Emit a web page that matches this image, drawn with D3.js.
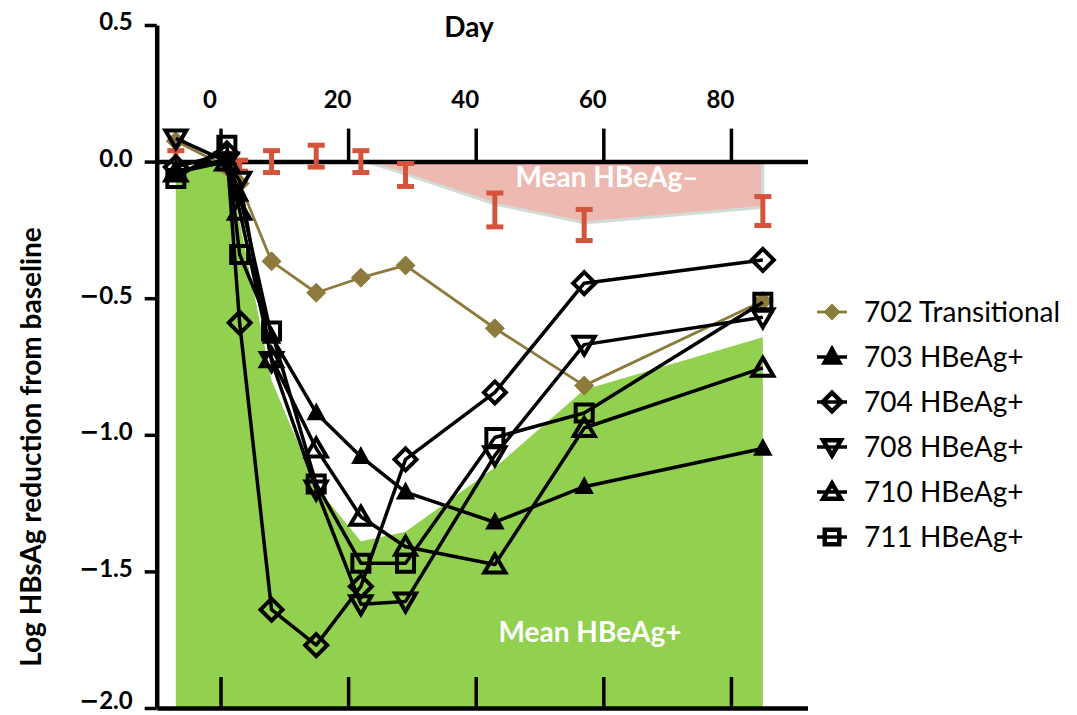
<!DOCTYPE html>
<html><head><meta charset="utf-8">
<script src="https://cdn.jsdelivr.net/npm/d3@7"></script>
<style>
body{margin:0;background:#fff}
svg{display:block}
text{font-family:Lato,"Open Sans",sans-serif}
</style>
</head><body>
<svg id="c" width="1077" height="715"></svg>
<script>
// ---------- data ----------
const days = [-7, 1, 3, 8, 15, 22, 29, 43, 57, 85];
const xTicks = [0, 20, 40, 60, 80];
const yTicks = [0.5, 0, -0.5, -1.0, -1.5, -2.0];

const meanPos = [-0.03, 0.0, -0.22, -0.80, -1.19, -1.39, -1.355, -1.12, -0.835, -0.643];
const meanNeg = [0, 0, 0, 0, 0.01, 0.006, -0.046, -0.155, -0.225, -0.167];
const negErrCenter = [0.0, 0.0, -0.015, 0.0, 0.02, 0.0, -0.049, -0.177, -0.232, -0.181];
const negErrHalf = [0.04, 0.03, 0.02, 0.04, 0.04, 0.04, 0.042, 0.062, 0.057, 0.053];

const s702 = [0.075, -0.02, -0.08, -0.365, -0.48, -0.425, -0.38, -0.61, -0.82, -0.51];
const s703 = [-0.04, 0.01, -0.12, -0.64, -0.92, -1.08, -1.21, -1.32, -1.19, -1.05];
const s704 = [-0.02, 0.03, -0.59, -1.64, -1.77, -1.555, -1.09, -0.845, -0.445, -0.36];
const s708 = [0.085, 0.0, -0.07, -0.73, -1.2, -1.62, -1.61, -1.075, -0.67, -0.57];
const s710 = [-0.04, 0.0, -0.18, -0.72, -1.05, -1.30, -1.41, -1.475, -0.975, -0.755];
const s711 = [-0.062, 0.06, -0.34, -0.62, -1.18, -1.47, -1.47, -1.01, -0.92, -0.515];

const seriesNames = ["702 Transitional", "703 HBeAg+", "704 HBeAg+", "708 HBeAg+", "710 HBeAg+", "711 HBeAg+"];
const seriesValues = [s702, s703, s704, s708, s710, s711];
const seriesMarkers = ["gdiamond", "ftri", "diamond", "dtri", "tri", "square"];

// ---------- styles ----------
const GOLD = "#8c7b3c", GREEN = "#92d050", PINK = "#edbab1", RED = "#d4543b";

const svg = d3.select("#c");
const x = d3.scaleLinear().domain([-10, 92]).range([156.7, 807.5]);
const y = d3.scaleLinear().domain([-2, 0.5]).range([708, 25]);

function markerPath(type, k) {
  let r;
  switch (type) {
    case "diamond": r = 11 * k; return `M0,${-r}L${r},0L0,${r}L${-r},0Z`;
    case "gdiamond": r = 9.5 * k; return `M0,${-r}L${r},0L0,${r}L${-r},0Z`;
    case "tri": return `M0,${-10*k}L${10.5*k},${8*k}L${-10.5*k},${8*k}Z`;
    case "ftri": return `M0,${-9*k}L${8.5*k},${6.5*k}L${-8.5*k},${6.5*k}Z`;
    case "dtri": return `M0,${10*k}L${10.5*k},${-8*k}L${-10.5*k},${-8*k}Z`;
    case "square": r = 8.5 * k; return `M${-r},${-r}H${r}V${r}H${-r}Z`;
  }
}
function seriesStyle(i) {
  if (i === 0) return {color: GOLD, lw: 2.8, fill: GOLD, sw: 1};
  if (seriesMarkers[i] === "ftri") return {color: "#000", lw: 3.5, fill: "#000", sw: 1.5};
  return {color: "#000", lw: 3.5, fill: "none", sw: 4};
}

// ---------- areas ----------
const defs = svg.append("defs");
defs.append("clipPath").attr("id", "below0").append("rect")
  .attr("x", 0).attr("y", y(0)).attr("width", 1077).attr("height", 715);

const posData = days.map((d, i) => [d, meanPos[i]]);
svg.append("path")
  .attr("d", d3.area().x(d => x(d[0])).y0(y(-2)).y1(d => y(d[1]))(posData))
  .attr("fill", GREEN);

const negData = days.map((d, i) => [d, meanNeg[i]]);
const gNeg = svg.append("g").attr("clip-path", "url(#below0)");
gNeg.append("path")
  .attr("d", d3.area().x(d => x(d[0])).y0(y(0)).y1(d => y(d[1]))(negData))
  .attr("fill", PINK);
gNeg.append("path")
  .attr("d", d3.line().x(d => x(d[0])).y(d => y(d[1]))(negData) + `V${y(0)}`)
  .attr("fill", "none").attr("stroke", "#d2dcd6").attr("stroke-width", 3);

svg.append("text").attr("x", 607).attr("y", 187).attr("text-anchor", "middle")
  .attr("fill", "#fff").attr("font-weight", 700).attr("font-size", 28).text("Mean HBeAg–");
svg.append("text").attr("x", 590).attr("y", 642).attr("text-anchor", "middle")
  .attr("fill", "#fff").attr("font-weight", 700).attr("font-size", 28).text("Mean HBeAg+");

// ---------- axes ----------
const topAxis = svg.append("g").attr("transform", `translate(0,${y(0)})`)
  .call(d3.axisTop(x).tickValues(xTicks).tickSize(33).tickSizeOuter(0).tickPadding(21).tickFormat(d3.format("d")));
topAxis.selectAll("text").attr("x", -11);

const botAxis = svg.append("g").attr("transform", `translate(0,${y(-2)})`)
  .call(d3.axisTop(x).tickValues(xTicks).tickSize(31).tickSizeOuter(0).tickFormat(""));

const leftAxis = svg.append("g").attr("transform", `translate(${x(-10)},0)`)
  .call(d3.axisLeft(y).tickValues(yTicks).tickSize(12).tickSizeOuter(0).tickPadding(12).tickFormat(d3.format(".1f")));

[topAxis, botAxis, leftAxis].forEach(g => {
  g.select(".domain").attr("stroke", "#000").attr("stroke-width", 4.5);
  g.selectAll(".tick line").attr("stroke", "#000").attr("stroke-width", 3.5);
  g.selectAll("text").attr("fill", "#000").attr("font-size", 24).attr("font-weight", 700)
    .attr("font-family", "Lato, 'Open Sans', sans-serif");
});
// wide minus sign like the reference; lowest label kept inside the frame
leftAxis.selectAll(".tick text").attr("dy", d => d === -2 ? "0.02em" : "0.2em").each(function(d) {
  const t = d3.select(this);
  t.text(null);
  if (d < 0) t.append("tspan").attr("font-family", "'DejaVu Sans', sans-serif").text("\u2212");
  t.append("tspan").text(d3.format(".1f")(Math.abs(d)));
});

svg.append("text").attr("x", 469).attr("y", 37).attr("text-anchor", "middle")
  .attr("font-weight", 700).attr("font-size", 28).text("Day");
svg.append("text").attr("transform", "translate(41,447) rotate(-90)").attr("text-anchor", "middle")
  .attr("font-weight", 700).attr("font-size", 28).text("Log HBsAg reduction from baseline");

// ---------- error bars ----------
const gErr = svg.append("g").attr("stroke", RED).attr("stroke-width", 5);
days.forEach((d, i) => {
  const cx = x(d), t = y(negErrCenter[i] + negErrHalf[i]), b = y(negErrCenter[i] - negErrHalf[i]);
  gErr.append("line").attr("x1", cx).attr("x2", cx).attr("y1", t).attr("y2", b);
  gErr.append("line").attr("x1", cx - 8.5).attr("x2", cx + 8.5).attr("y1", t).attr("y2", t);
  gErr.append("line").attr("x1", cx - 8.5).attr("x2", cx + 8.5).attr("y1", b).attr("y2", b);
});

// ---------- series ----------
const line = d3.line().x(d => x(d[0])).y(d => y(d[1]));
seriesValues.forEach((vals, i) => {
  const st = seriesStyle(i);
  const pts = days.map((d, j) => [d, vals[j]]);
  const g = svg.append("g");
  g.append("path").attr("d", line(pts)).attr("fill", "none")
    .attr("stroke", st.color).attr("stroke-width", st.lw).attr("stroke-linejoin", "round");
  g.selectAll("path.m").data(pts).join("path").attr("class", "m")
    .attr("transform", d => `translate(${x(d[0])},${y(d[1])})`)
    .attr("d", markerPath(seriesMarkers[i], 1))
    .attr("fill", st.fill).attr("stroke", st.color).attr("stroke-width", st.sw)
    .attr("stroke-linejoin", "miter");
});

// ---------- legend ----------
const legend = svg.append("g").attr("transform", "translate(832,312)");
seriesNames.forEach((name, i) => {
  const st = seriesStyle(i);
  const g = legend.append("g").attr("transform", `translate(0,${i * 45})`);
  g.append("line").attr("x1", -15).attr("x2", 15).attr("y1", 0).attr("y2", 0)
    .attr("stroke", st.color).attr("stroke-width", i === 0 ? 2.8 : 3.5);
  g.append("path").attr("d", markerPath(seriesMarkers[i], 0.85))
    .attr("fill", st.fill).attr("stroke", st.color).attr("stroke-width", i === 0 ? st.sw : 4.5);
  g.append("text").attr("x", 32).attr("y", 0).attr("dy", "0.36em")
    .attr("font-size", 28).attr("fill", "#000").text(name);
});
</script>
</body></html>
